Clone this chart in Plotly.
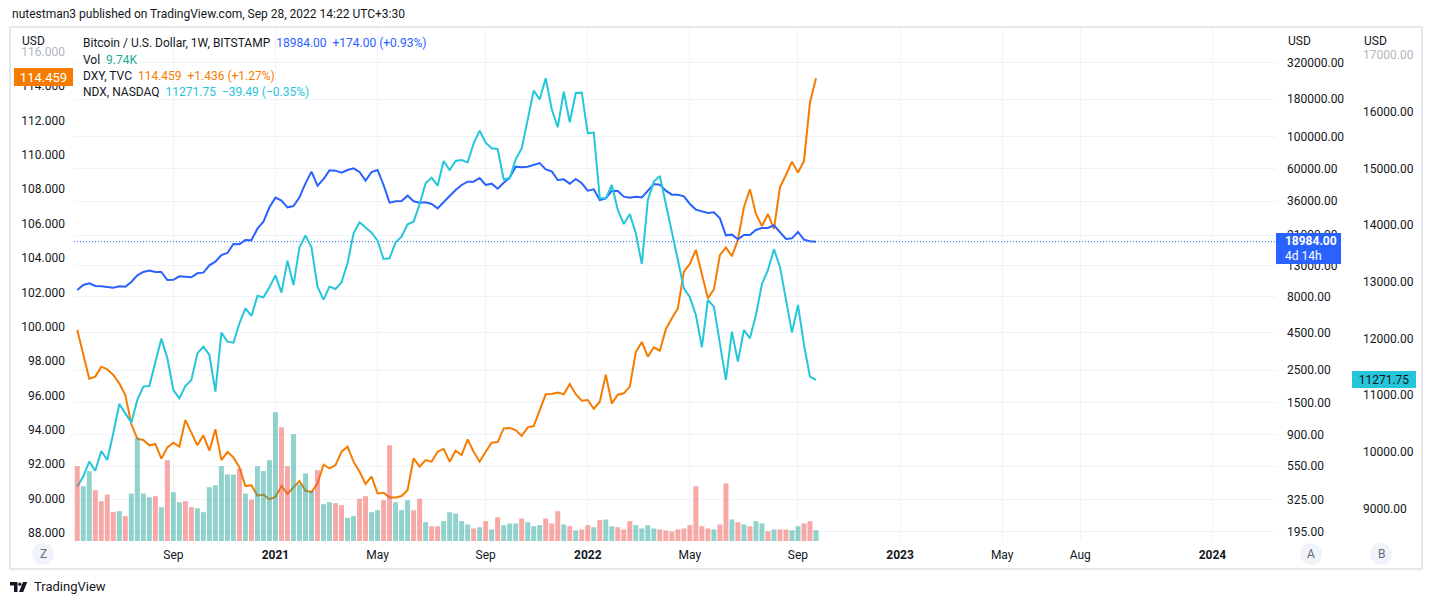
import math
import pandas as pd
import plotly.graph_objects as go

# ---------------- data (weekly, Bitstamp BTCUSD / TVC DXY / NASDAQ NDX) ----------------
weeks = pd.date_range("2020-05-18", periods=124, freq="7D")

btc_close = [8850, 9580, 9830, 9430, 9380, 9230, 9190, 9380, 9330, 10050,
             11160, 11770, 12020, 11770, 11770, 10370, 10400, 10990, 10870, 10820,
             11520, 11640, 13070, 13850, 15380, 15880, 18300, 18250, 19490, 19440,
             23310, 26030, 32640, 38020, 36260, 32640, 33340, 38220, 47680, 57310,
             45950, 51000, 58500, 58240, 56420, 58860, 60400, 57020, 49720, 57020,
             58860, 46440, 35140, 35880, 36070, 39260, 35880, 35140, 35320, 34410,
             32130, 35140, 39050, 42910, 46440, 48940, 48940, 51860, 46440, 47420,
             43820, 48170, 52130, 62000, 61350, 62000, 63650, 65690, 59460, 57610,
             50230, 50770, 47420, 51050, 47690, 42460, 43370, 36650, 37630, 42460,
             42240, 38630, 38020, 38630, 38220, 42460, 47190, 46690, 42460, 39860,
             39860, 38830, 34410, 31500, 30490, 29850, 30170, 27440, 20980, 21210,
             19700, 21100, 21100, 22830, 23560, 23560, 24570, 21890, 19810, 20010,
             22120, 19600, 19090, 18984]

dxy_close = [99.81, 98.41, 96.97, 97.09, 97.67, 97.52, 97.19, 96.70, 96.02, 94.33,
             93.48, 93.40, 93.09, 93.17, 92.31, 92.97, 93.24, 93.01, 94.56, 93.83,
             93.09, 93.67, 92.78, 94.02, 92.23, 92.70, 92.39, 91.81, 90.72, 90.76,
             90.16, 90.22, 89.94, 90.10, 90.72, 90.27, 90.64, 91.01, 90.45, 90.37,
             90.87, 91.96, 91.75, 91.94, 92.72, 93.01, 92.14, 91.56, 90.84, 91.27,
             90.29, 90.33, 90.06, 90.06, 90.14, 90.49, 92.33, 91.85, 92.23, 92.14,
             92.72, 92.89, 92.14, 92.78, 92.53, 93.44, 92.72, 92.14, 92.72, 93.24,
             93.28, 94.08, 94.10, 93.98, 93.63, 94.14, 94.21, 95.15, 96.06, 96.08,
             96.16, 96.06, 96.66, 96.07, 95.69, 95.73, 95.22, 95.63, 97.20, 95.53,
             96.04, 96.12, 96.51, 98.52, 99.11, 98.25, 98.80, 98.60, 99.85, 100.49,
             101.07, 103.20, 103.65, 104.47, 103.11, 101.65, 102.17, 104.17, 104.62, 104.11,
             105.05, 106.95, 108.00, 106.56, 105.86, 106.56, 105.69, 108.11, 108.83, 109.61,
             108.97, 109.65, 113.05, 114.459]

ndx_close = [9388, 9565, 9829, 9670, 10017, 9858, 10329, 10846, 10681, 10517,
             10917, 11152, 11163, 11575, 11998, 11651, 11093, 10946, 11163, 11269,
             11739, 11857, 11710, 11063, 12104, 11945, 11927, 12268, 12533, 12398,
             12750, 12727, 12903, 13115, 12809, 13374, 12944, 13609, 13820, 13609,
             12915, 12686, 12915, 12874, 12991, 13327, 13855, 14049, 13955, 13867,
             13726, 13403, 13415, 13697, 13797, 14014, 14061, 14367, 14737, 14837,
             14696, 15131, 14972, 15131, 15149, 15107, 15443, 15666, 15454, 15354,
             15343, 14808, 14825, 15160, 15354, 15854, 16371, 16218, 16589, 16042,
             15725, 16354, 15813, 16330, 16336, 15619, 15631, 14473, 14473, 14708,
             14267, 14020, 14196, 13855, 13315, 14443, 14767, 14866, 14384, 13914,
             13385, 12886, 12727, 12415, 11845, 12680, 12562, 11916, 11269, 12121,
             11592, 12151, 12004, 12415, 12962, 13209, 13573, 13268, 12680, 12104,
             12592, 11886, 11328, 11271.75]

volume_k = [67.5, 49.4, 63.0, 45.8, 35.9, 41.9, 26.0, 26.9, 22.4, 42.8,
            93.1, 42.8, 39.5, 40.4, 30.5, 72.9, 44.0, 35.0, 35.9, 30.5,
            29.6, 26.0, 48.5, 50.3, 67.5, 60.0, 60.0, 65.1, 42.8, 37.4,
            67.5, 63.0, 72.9, 116.2, 102.6, 67.5, 96.3, 51.0, 60.9, 44.9,
            63.9, 33.2, 35.0, 34.1, 32.3, 20.9, 22.4, 38.1, 40.4, 26.0,
            27.8, 36.8, 86.4, 35.0, 27.8, 36.8, 27.8, 38.1, 17.0, 13.3,
            13.3, 17.9, 26.0, 24.8, 17.9, 14.9, 11.3, 12.4, 17.9, 10.4,
            21.5, 14.3, 15.8, 15.8, 20.3, 17.0, 13.3, 14.3, 20.3, 15.8,
            26.9, 14.9, 13.3, 9.5, 10.4, 14.3, 12.4, 18.8, 19.4, 13.3,
            12.4, 10.4, 17.9, 14.3, 11.3, 14.3, 11.3, 10.4, 9.5, 8.6,
            10.4, 11.3, 14.3, 49.4, 13.3, 11.3, 10.4, 14.9, 51.9, 19.4,
            17.0, 14.9, 13.3, 17.9, 15.8, 8.8, 10.4, 10.4, 10.4, 9.7,
            13.3, 15.8, 17.9, 9.74]

volume_dir = ["d", "u", "u", "d", "d", "d", "d", "u", "d", "u",
              "u", "u", "u", "d", "u", "d", "u", "u", "d", "d",
              "u", "u", "u", "u", "u", "u", "u", "d", "u", "d",
              "u", "u", "u", "u", "d", "d", "u", "u", "u", "u",
              "d", "u", "u", "d", "d", "u", "u", "d", "d", "u",
              "u", "d", "d", "u", "u", "u", "d", "d", "u", "d",
              "d", "u", "u", "u", "u", "u", "d", "u", "d", "u",
              "d", "u", "u", "u", "d", "u", "u", "u", "d", "d",
              "d", "u", "d", "u", "d", "d", "u", "d", "u", "u",
              "d", "d", "d", "u", "u", "u", "u", "d", "d", "d",
              "d", "d", "d", "d", "d", "d", "u", "d", "d", "u",
              "d", "u", "d", "u", "u", "d", "u", "d", "d", "u",
              "u", "d", "d", "u"]

btc_ticks = [195, 325, 550, 900, 1500, 2500, 4500, 8000, 13000, 21000,
             36000, 60000, 100000, 180000, 320000]
dxy_ticks = [88, 90, 92, 94, 96, 98, 100, 102, 104, 106, 108, 110, 112, 114, 116]
ndx_ticks = [9000, 10000, 11000, 12000, 13000, 14000, 15000, 16000, 17000]

x_tick_dates = ["2020-09-07", "2021-01-04", "2021-05-03", "2021-09-06", "2022-01-03",
                "2022-05-02", "2022-09-05", "2023-01-02", "2023-05-01", "2023-07-31",
                "2024-01-01"]
x_tick_labels = ["Sep", "2021", "May", "Sep", "2022", "May", "Sep", "2023", "May",
                 "Aug", "2024"]

# ---------------- styling ----------------
FONT = "Roboto, 'Open Sans', sans-serif"
TXT = "#131722"
GRID = "#f0f3fa"
BLUE = "#2962ff"
ORANGE = "#f57c00"
CYAN = "#26c6da"
TEAL = "#22ab94"
FADED = "#b2b5be"
VOL_UP = "rgba(38,166,154,0.5)"
VOL_DN = "rgba(239,83,80,0.5)"

W, H = 1432, 605
L, R, T, B = 74, 10, 28, 64
PW, PH = W - L - R, H - T - B
PLOT_RIGHT = 1276
D = (PLOT_RIGHT - L) / PW


def px(x):
    return (x - L) / PW


def py(y):
    return (H - B - y) / PH


last = weeks[-1]
px_per_day = 0.858
x_start = last - pd.Timedelta(days=(816 - L) / px_per_day)
x_end = last + pd.Timedelta(days=(PLOT_RIGHT - 816) / px_per_day)

fig = go.Figure()
fig.add_trace(go.Scatter(x=weeks, y=dxy_close, yaxis="y", mode="lines",
                         line=dict(color=ORANGE, width=2), hoverinfo="skip"))
fig.add_trace(go.Scatter(x=weeks, y=btc_close, yaxis="y2", mode="lines",
                         line=dict(color=BLUE, width=2), hoverinfo="skip"))
fig.add_trace(go.Scatter(x=[x_start, x_end], y=[btc_close[-1], btc_close[-1]], yaxis="y2",
                         mode="lines", line=dict(color=BLUE, width=1, dash="1px,2px"),
                         hoverinfo="skip"))
fig.add_trace(go.Scatter(x=weeks, y=ndx_close, yaxis="y3", mode="lines",
                         line=dict(color=CYAN, width=2), hoverinfo="skip"))
fig.add_trace(go.Bar(x=weeks, y=volume_k, yaxis="y4",
                     marker=dict(color=[VOL_UP if d == "u" else VOL_DN for d in volume_dir],
                                 line=dict(width=0)),
                     hoverinfo="skip"))


def fmt(v, nd, faded=False):
    s = f"{v:.{nd}f}"
    return f'<span style="color:{FADED}">{s}</span>' if faded else s


tickfont = dict(family=FONT, size=12, color=TXT)

fig.update_layout(
    width=W, height=H,
    margin=dict(l=L, r=R, t=T, b=B, pad=0),
    paper_bgcolor="white", plot_bgcolor="white",
    showlegend=False, hovermode=False, bargap=0.17,
    font=dict(family=FONT, color=TXT),
    xaxis=dict(type="date", domain=[0, D], range=[x_start, x_end],
               tickmode="array", tickvals=x_tick_dates,
               ticktext=[f"<b>{t}</b>" if t.isdigit() else t for t in x_tick_labels],
               showgrid=True, gridcolor=GRID, gridwidth=1, zeroline=False,
               showline=False, ticks="", tickfont=tickfont, ticklabelstandoff=5,
               fixedrange=True),
    yaxis=dict(range=[87.52, 117.39], side="left", tickmode="array",
               tickvals=dxy_ticks,
               ticktext=[fmt(v, 3, faded=(v == 116)) for v in dxy_ticks],
               showgrid=False, zeroline=False, showline=False, ticks="",
               tickfont=tickfont, ticklabelstandoff=8, fixedrange=True),
    yaxis2=dict(type="log", range=[2.2268, 5.7429], overlaying="y", side="right",
                anchor="free", position=D, tickmode="array", tickvals=btc_ticks,
                ticktext=[fmt(v, 2) for v in btc_ticks],
                showgrid=True, gridcolor=GRID, gridwidth=1, zeroline=False,
                showline=False, ticks="", tickfont=tickfont, ticklabelstandoff=10,
                fixedrange=True),
    yaxis3=dict(range=[8430, 17476], overlaying="y", side="right", anchor="free",
                position=px(1352), tickmode="array", tickvals=ndx_ticks,
                ticktext=[fmt(v, 2, faded=(v == 17000)) for v in ndx_ticks],
                showgrid=False, zeroline=False, showline=False, ticks="",
                tickfont=tickfont, ticklabelstandoff=10, fixedrange=True),
    yaxis4=dict(range=[0, 462.7], overlaying="y", visible=False, fixedrange=True),
)

NB = "\u00a0"
ann = []


def text_ann(x, y, text, size=12, color=TXT, xanchor="left"):
    ann.append(dict(xref="paper", yref="paper", x=px(x), y=py(y), text=text,
                    showarrow=False, xanchor=xanchor, yanchor="middle",
                    font=dict(family=FONT, size=size, color=color)))


# header
text_ann(10, 14, "nutestman3 published on TradingView.com, Sep 28, 2022 14:22 UTC+3:30", size=12)

# legend rows
text_ann(81, 43, f"Bitcoin / U.S. Dollar, 1W, BITSTAMP{NB}{NB}"
         f'<span style="color:{BLUE}">18984.00{NB}{NB}+174.00{NB}(+0.93%)</span>')
text_ann(81, 60, f'Vol{NB}{NB}<span style="color:{TEAL}">9.74K</span>')
text_ann(81, 76, f"DXY, TVC{NB}{NB}"
         f'<span style="color:{ORANGE}">114.459{NB}{NB}+1.436{NB}(+1.27%)</span>')
text_ann(81, 92, f"NDX, NASDAQ{NB}{NB}"
         f'<span style="color:{CYAN}">11271.75{NB}{NB}\u221239.49{NB}(\u22120.35%)</span>')

# currency captions
text_ann(20, 41, "USD")
text_ann(1286, 41, "USD")
text_ann(1362, 41, "USD")

# price labels on the scales
ann.append(dict(xref="paper", yref="y", x=px(14), y=dxy_close[-1], xanchor="left",
                yanchor="middle", yshift=1, text=f"{dxy_close[-1]:.3f}", showarrow=False,
                bgcolor=ORANGE, width=53, height=12, borderpad=2, borderwidth=1,
                bordercolor=ORANGE, font=dict(family=FONT, size=13, color="white")))
ann.append(dict(xref="paper", yref="y2", x=D, y=math.log10(btc_close[-1]), xanchor="left",
                yanchor="middle", yshift=-6.5, align="left",
                text=f"{NB}{NB}<b>{btc_close[-1]:.2f}</b><br>{NB}{NB}4d 14h",
                showarrow=False, bgcolor=BLUE, width=59, height=25, borderpad=2,
                borderwidth=1, bordercolor=BLUE,
                font=dict(family=FONT, size=12, color="white")))
ann.append(dict(xref="paper", yref="y3", x=px(1352), y=ndx_close[-1], xanchor="left",
                yanchor="middle", text=f"{ndx_close[-1]:.2f}", showarrow=False,
                bgcolor=CYAN, width=58, height=11, borderpad=2, borderwidth=1,
                bordercolor=CYAN, font=dict(family=FONT, size=12, color=TXT)))

# scale buttons
for cx, letter in [(43, "Z"), (1311, "A"), (1381, "B")]:
    text_ann(cx, 554, letter, size=12, color="#6a6d78", xanchor="center")

# footer
text_ann(32, 587, "TradingView", size=13)

shapes = [
    dict(type="rect", xref="paper", yref="paper", x0=px(10), x1=px(1422), y0=py(569),
         y1=py(27), line=dict(color="#e6e8ee", width=2), fillcolor="rgba(0,0,0,0)",
         layer="above"),
]
for cx in (43, 1311, 1381):
    shapes.append(dict(type="circle", xref="paper", yref="paper", x0=px(cx - 11),
                       x1=px(cx + 11), y0=py(554 + 11), y1=py(554 - 11),
                       fillcolor="#f0f3fa", line=dict(width=0), layer="below"))


def path(points):
    return "M" + " L".join(f"{px(a):.5f},{py(b):.5f}" for a, b in points) + " Z"


shapes.append(dict(type="path", xref="paper", yref="paper",
                   path=path([(10, 582), (17.5, 582), (17.5, 592), (14, 592), (14, 585.5), (10, 585.5)]),
                   fillcolor=TXT, line=dict(width=0)))
shapes.append(dict(type="circle", xref="paper", yref="paper", x0=px(18.2), x1=px(21.4),
                   y0=py(585.8), y1=py(582.6), fillcolor=TXT, line=dict(width=0)))
shapes.append(dict(type="path", xref="paper", yref="paper",
                   path=path([(23, 582), (27.2, 582), (23.2, 592), (19, 592)]),
                   fillcolor=TXT, line=dict(width=0)))

fig.update_layout(annotations=ann, shapes=shapes)

fig.write_html("out.html", config={"displayModeBar": False},
               post_script="document.body.style.margin='0';document.body.style.overflow='hidden';")
